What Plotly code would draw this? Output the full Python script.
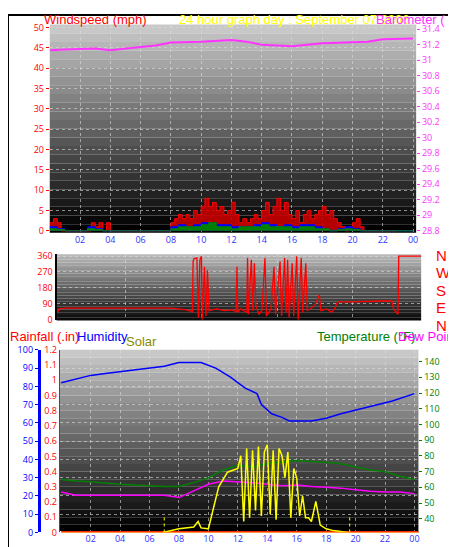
import numpy as np
import plotly.graph_objects as go

hour_ticks = [2,4,6,8,10,12,14,16,18,20,22,24]
hour_labels = ["02","04","06","08","10","12","14","16","18","20","22","00"]

# windspeed, 15-minute steps
wind_t = list(np.arange(0, 24.01, 0.25))
gust = [2,3,2,0, 0,0,0,0, 0,0,0,2, 1,2,0,2, 0,0,0,0, 0,0,0,0, 0,0,0,0, 0,0,0,0,
        2,3,4,3, 4,3,5,4, 6,8,6,7, 5,6,4,5, 7,4,2,3, 2,3,4,3, 5,7,4,6, 8,5,7,4,
        3,5,2,4, 5,3,4,5, 6,4,5,3, 2,1,0,1, 2,3,1,0, 0,0,0,0, 0,0,0,0, 0]
avg_t = list(np.arange(0, 24.01, 0.5))
avg = [1,0.5,0,0,0,1,0.5,0,0,0,0,0,0,0,0,0,
       1,1.5,1,1.5,2,2,1.5,1.5,1,1,1,1.5,2,1.5,1,1.5,1,1.5,1.5,1,0.5,0,0.5,1,0.5,0,0,0,0,0,0,0,0]
green = [0.5,0.3,0,0,0,0.5,0.3,0,0,0,0,0,0,0,0,0,
         0.5,1,1,1,1.5,2,1,1,0.5,1,1,1,1.5,1,1,1,0.5,1,1,0.5,0.5,0,0.3,0.5,0.3,0,0,0,0,0,0,0,0]

baro_t = [0,1,3,4,6,7,8,10,12,13,14,16,18,20,21,22,24]
baro = [31.13,31.14,31.15,31.13,31.17,31.19,31.23,31.24,31.26,31.24,31.2,31.18,31.22,31.23,31.24,31.27,31.28]

dir_t = [0.4,0.6,1,3,5,7,8,9,9.4,9.45,9.5,9.7,9.8,9.9,10,10.05,10.2,10.3,10.4,10.5,11,11.5,12,12.3,12.35,12.4,12.6,13,13.05,13.1,
         13.3,13.4,13.5,13.6,13.8,14,14.2,14.3,14.6,14.8,14.9,15.2,15.3,15.5,15.6,15.7,15.8,16,16.1,16.3,16.4,16.6,16.7,16.9,17,
         17.5,17.8,17.9,18.3,18.6,18.8,19,20,22,22.6,22.7,23,23.05,24.6]
wdir = [30,60,65,65,62,62,65,55,45,330,345,350,10,340,360,0,300,20,280,50,60,50,55,45,300,40,60,40,350,30,
        340,50,320,80,30,50,350,20,60,300,30,330,20,350,40,340,10,320,20,360,0,350,40,320,50,
        80,140,50,60,40,60,100,100,105,105,60,30,360,360]

temp_t = [0,1,2,4,6,7,8,9,10,11,12,13,14,15,16,17,18,19,20,21,22,23,24]
temp = [65,64,63.5,62,61,60.5,60.5,63,66,71,74,73,75,76,77,76.5,76,75,73,71,70,67,65]
dew = [57,55,55,55,55,55,53.5,58,62,64,63.5,63,62,61,61.5,60.5,60,59.5,58.5,57.5,57,57,56]
hum_t = [0,1,2,3,5,7,8,9.5,10.5,11.5,12.5,13,13.3,13.6,14.3,15,15.5,17,18,19,21,22.5,24]
hum = [82,84,86,87,89,91,93,93,90,85,79,77,76,70,65,63,61,61,62.5,65,69,72,76]
solar_t = [6.9,8,9,9.3,9.5,10,10.7,11.3,12,12.2,12.4,12.6,12.8,13,13.2,13.4,13.6,13.8,14,14.2,14.4,14.6,14.8,15,15.2,15.4,15.6,15.8,
           16,16.2,16.4,16.6,16.8,17,17.3,17.6,18,18.5,19.5]
solar = [0,20,30,60,25,20,250,330,350,420,60,460,80,450,120,470,90,440,480,100,450,70,460,420,300,440,80,350,300,90,200,80,80,60,170,40,20,10,0]
sun_events = [7.0, 19.6]

fig = go.Figure()

def bands(xr, yr, top, bot, n=24):
    for i in range(n):
        f = i / (n - 1)
        v = int(top + (bot - top) * f)
        fig.add_shape(type="rect", xref=xr + " domain", yref=yr + " domain",
                      x0=0, x1=1, y0=1 - (i + 1) / n, y1=1 - i / n,
                      fillcolor=f"rgb({v},{v},{v})", line_width=0, layer="below")

bands("x", "y", 200, 0)
bands("x2", "y3", 185, 10)
bands("x3", "y4", 200, 0)

# top panel
fig.add_trace(go.Scatter(x=wind_t, y=gust, mode="lines", line=dict(color="red", width=1, shape="hv"),
                         fill="tozeroy", fillcolor="rgba(200,0,0,0.9)", xaxis="x", yaxis="y"))
fig.add_trace(go.Scatter(x=avg_t, y=avg, mode="lines", line=dict(color="blue", width=1, shape="hv"),
                         fill="tozeroy", fillcolor="blue", xaxis="x", yaxis="y"))
fig.add_trace(go.Scatter(x=avg_t, y=green, mode="lines", line=dict(color="green", width=1, shape="hv"),
                         fill="tozeroy", fillcolor="green", xaxis="x", yaxis="y"))
fig.add_trace(go.Scatter(x=baro_t, y=baro, mode="lines", line=dict(color="#ff33ff", width=2), xaxis="x", yaxis="y2"))
# middle
fig.add_trace(go.Scatter(x=dir_t, y=wdir, mode="lines", line=dict(color="red", width=1.3), xaxis="x2", yaxis="y3"))
# bottom
fig.add_trace(go.Scatter(x=[0, 24.3], y=[0, 0], mode="lines", line=dict(color="red", width=3), xaxis="x3", yaxis="y5"))
fig.add_trace(go.Scatter(x=solar_t, y=solar, mode="lines", line=dict(color="yellow", width=1.5), xaxis="x3", yaxis="y7"))
fig.add_trace(go.Scatter(x=[0, 24.3], y=[0, 0], mode="lines", line=dict(color="orange", width=1.5), xaxis="x3", yaxis="y7"))
for s in sun_events:
    fig.add_trace(go.Scatter(x=[s, s], y=[0, 100], mode="lines", line=dict(color="yellow", width=1, dash="dot"),
                             xaxis="x3", yaxis="y7"))
fig.add_trace(go.Scatter(x=temp_t, y=temp, mode="lines", line=dict(color="green", width=1.5), xaxis="x3", yaxis="y6"))
fig.add_trace(go.Scatter(x=temp_t, y=dew, mode="lines", line=dict(color="#ff00ff", width=1.5), xaxis="x3", yaxis="y6"))
fig.add_trace(go.Scatter(x=hum_t, y=hum, mode="lines", line=dict(color="blue", width=1.5), xaxis="x3", yaxis="y4"))

grid = dict(showgrid=True, gridcolor="rgba(220,220,220,0.6)", griddash="dot", gridwidth=1, zeroline=False)
xcommon = dict(tickvals=hour_ticks, ticktext=hour_labels, tickfont=dict(size=9, color="#3333ff"), ticks="", **grid)

fig.update_layout(
    width=456, height=547, margin=dict(l=0, r=0, t=0, b=0), showlegend=False,
    paper_bgcolor="white", plot_bgcolor="rgba(0,0,0,0)",
    xaxis=dict(domain=[0.092, 0.899], range=[0, 24.2], anchor="y", **xcommon),
    yaxis=dict(domain=[0.592, 0.982], range=[-0.5, 50.7], dtick=5, tickfont=dict(size=9, color="red"),
               ticks="outside", ticklen=3, tickcolor="red", **grid),
    yaxis2=dict(overlaying="y", side="right", anchor="x", range=[28.77, 31.46], dtick=0.2,
                tickfont=dict(size=9, color="#ff33ff"), ticks="outside", ticklen=3, tickcolor="#ff33ff", showgrid=False),
    xaxis2=dict(domain=[0.107, 0.910], range=[0.42, 24.53], anchor="y3", showticklabels=False, **grid),
    yaxis3=dict(domain=[0.428, 0.552], range=[-5.5, 371], tickvals=[0, 90, 180, 270, 360], anchor="x2",
                tickfont=dict(size=9, color="red"), showline=True, linecolor="black", linewidth=2, **grid),
    xaxis3=dict(domain=[0.114, 0.904], range=[-0.1, 24.27], anchor="y4", **xcommon),
    yaxis4=dict(domain=[0.031, 0.373], range=[0, 100], dtick=10, anchor="free", position=0.068,
                tickfont=dict(size=9, color="blue"), showline=True, linecolor="blue", linewidth=3,
                ticks="outside", ticklen=3, tickcolor="blue", **grid),
    yaxis5=dict(overlaying="y4", range=[0, 1.2], dtick=0.1, anchor="x3", side="left",
                tickfont=dict(size=9, color="red"), showline=True, linecolor="red", linewidth=1, showgrid=False),
    yaxis6=dict(overlaying="y4", range=[31.3, 147.5], dtick=10, anchor="x3", side="right",
                tickfont=dict(size=9, color="green"), ticks="outside", ticklen=3, tickcolor="green", showgrid=False),
    yaxis7=dict(overlaying="y4", range=[0, 1000], visible=False),
)

fig.add_shape(type="rect", xref="paper", yref="paper", x0=0, x1=1, y0=0, y1=1, line=dict(color="black", width=2))

def txt(x, y, t, c, s=13, xa="left"):
    fig.add_annotation(x=x / 456, y=1 - y / 547, xref="paper", yref="paper", text=t, showarrow=False,
                       font=dict(color=c, size=s, family="Arial"), xanchor=xa, yanchor="middle")

txt(34, 5, "Windspeed (mph)", "red")
txt(170, 5, "24 hour graph day : September 07 2006", "yellow")
txt(368, 5, "Barometer ( in)", "#ff33ff")
for lbl, yy in zip(["N", "W", "S", "E", "N"], [246, 264, 282, 300, 318]):
    txt(428, yy, lbl, "red", 15)
txt(0, 329, "Rainfall (.in)", "red")
txt(67, 329, "Humidity", "blue")
txt(117, 334, "Solar", "#888800")
txt(308, 329, "Temperature (°F)", "green")
txt(390, 329, "Dew Point (°F)", "#ff00ff")

fig.write_html("out.html")
